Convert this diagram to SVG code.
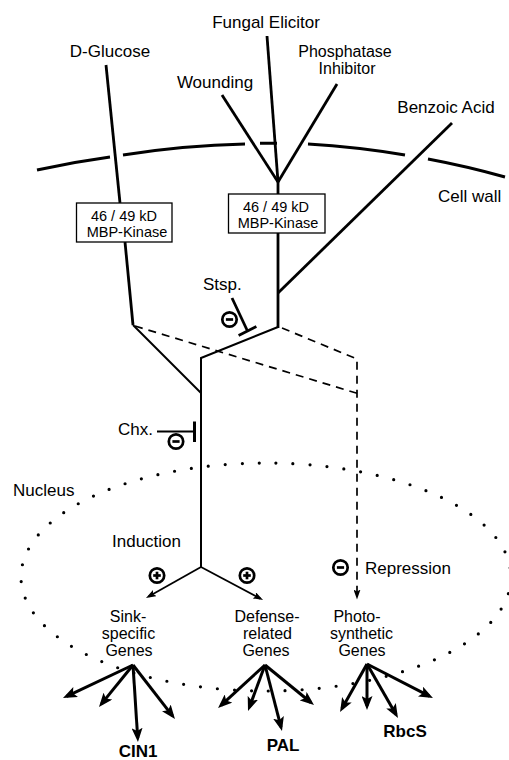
<svg xmlns="http://www.w3.org/2000/svg" width="509" height="760" viewBox="0 0 509 760">
<style>
text{font-family:"Liberation Sans",Arial,Helvetica,sans-serif;font-size:17px;fill:#000}
.c{text-anchor:middle}
.box{font-size:14.5px}
.g{font-size:16px}
.b{font-weight:bold}
.thick{stroke:#000;stroke-width:2.8;fill:none;stroke-linejoin:miter}
.mid{stroke:#000;stroke-width:2;fill:none}
.thin{stroke:#000;stroke-width:1.8;fill:none}
.dash{stroke:#000;stroke-width:1.7;fill:none;stroke-dasharray:8 6}
.wall{stroke:#000;stroke-width:3;fill:none}
.bold{stroke:#000;stroke-width:3;fill:none}
.kbox{fill:#fff;stroke:#000;stroke-width:1.3}
.sym{fill:none;stroke:#000;stroke-width:2.7}
.dots{fill:none;stroke:#000;stroke-width:3.2;stroke-linecap:round;stroke-dasharray:0 17}
</style>
<defs>
<marker id="ahThin" markerUnits="userSpaceOnUse" markerWidth="10" markerHeight="7" refX="7" refY="3.5" orient="auto"><path d="M0,0 L10,3.5 L0,7 L2,3.5 z" fill="#000"/></marker>
<marker id="ahBold" markerUnits="userSpaceOnUse" markerWidth="14" markerHeight="11" refX="10" refY="5.5" orient="auto"><path d="M0,0 L14,5.5 L0,11 L3,5.5 z" fill="#000"/></marker>
<g id="minus"><circle r="7.2" class="sym"/><line x1="-3.6" y1="0" x2="3.6" y2="0" class="sym"/></g>
<g id="plus"><circle r="7.2" class="sym"/><line x1="-3.8" y1="0" x2="3.8" y2="0" class="sym"/><line x1="0" y1="-3.8" x2="0" y2="3.8" class="sym"/></g>
</defs>
<rect width="509" height="760" fill="#fff"/>

<g id="cell-wall">
<path class="wall" d="M37,170 A900,900 0 0 1 110,157"/>
<path class="wall" d="M123,155 A900,900 0 0 1 245,144"/>
<path class="wall" d="M260,143.3 A900,900 0 0 1 277,143.3"/>
<path class="wall" d="M308,144 A900,900 0 0 1 405,155"/>
<path class="wall" d="M428,159 A900,900 0 0 1 505,177"/>
<text x="438" y="202">Cell wall</text>
</g>

<g id="nucleus">
<ellipse class="dots" cx="266" cy="577" rx="245" ry="114"/>
<text x="13" y="496">Nucleus</text>
</g>

<g id="connectors">
<polyline class="thick" points="106,65 120,203"/>
<polyline class="thick" points="125,242 133,325"/>
<polyline class="mid" points="133,325 201,393"/>
<line class="thick" x1="267" y1="36" x2="278" y2="182"/>
<line class="thick" x1="222" y1="95" x2="278" y2="182"/>
<line class="thick" x1="337" y1="84" x2="278" y2="182"/>
<line class="thick" x1="278" y1="181" x2="278" y2="194"/>
<line class="thick" x1="278" y1="233" x2="278" y2="328"/>
<line class="thick" x1="452" y1="123" x2="278" y2="293"/>
<polyline class="mid" points="278,327 201,358 201,567"/>
<line class="thin" x1="201" y1="567" x2="148.6" y2="596.5" marker-end="url(#ahThin)"/>
<line class="thin" x1="201" y1="567" x2="260.4" y2="598.6" marker-end="url(#ahThin)"/>
<line class="dash" x1="135" y1="326" x2="357" y2="393.3"/>
<polyline class="dash" points="282,328 357,359 357,596.5" marker-end="url(#ahThin)"/>
<line class="bold" x1="133" y1="665" x2="66.6" y2="696.3" marker-end="url(#ahBold)"/>
<line class="bold" x1="133" y1="665" x2="101.5" y2="703.9" marker-end="url(#ahBold)"/>
<line class="bold" x1="133" y1="665" x2="137.7" y2="738" marker-end="url(#ahBold)"/>
<line class="bold" x1="133" y1="665" x2="172.5" y2="715.8" marker-end="url(#ahBold)"/>
<line class="bold" x1="265" y1="665" x2="221" y2="705.3" marker-end="url(#ahBold)"/>
<line class="bold" x1="265" y1="665" x2="249.4" y2="707.2" marker-end="url(#ahBold)"/>
<line class="bold" x1="265" y1="665" x2="281" y2="727.1" marker-end="url(#ahBold)"/>
<line class="bold" x1="265" y1="665" x2="310.9" y2="702.5" marker-end="url(#ahBold)"/>
<line class="bold" x1="367" y1="664" x2="342" y2="708.5" marker-end="url(#ahBold)"/>
<line class="bold" x1="367" y1="664" x2="367" y2="706" marker-end="url(#ahBold)"/>
<line class="bold" x1="367" y1="664" x2="396" y2="714.5" marker-end="url(#ahBold)"/>
<line class="bold" x1="367" y1="664" x2="429.4" y2="696.2" marker-end="url(#ahBold)"/>
</g>

<g id="d-glucose"><text class="c" x="110" y="57">D-Glucose</text></g>
<g id="fungal-elicitor"><text class="c" x="266" y="28">Fungal Elicitor</text></g>
<g id="phosphatase-inhibitor"><text class="c g" x="345" y="56.5">Phosphatase</text><text class="c g" x="347" y="74">Inhibitor</text></g>
<g id="wounding"><text class="c" x="215" y="88">Wounding</text></g>
<g id="benzoic-acid"><text class="c" x="446" y="113">Benzoic Acid</text></g>

<g id="kinase-1">
<rect class="kbox" x="76.5" y="203" width="95.5" height="39"/>
<text class="c box" x="124" y="221">46 / 49 kD</text>
<text class="c box" x="127" y="237">MBP-Kinase</text>
</g>
<g id="kinase-2">
<rect class="kbox" x="228.5" y="194" width="96.5" height="39"/>
<text class="c box" x="276" y="212">46 / 49 kD</text>
<text class="c box" x="278" y="228">MBP-Kinase</text>
</g>

<g id="stsp">
<text x="203" y="290">Stsp.</text>
<line class="thick" x1="232" y1="298" x2="247.5" y2="331"/>
<line class="thick" x1="238.6" y1="335.5" x2="256.4" y2="326.5"/>
<use href="#minus" x="229.5" y="319.5"/>
</g>

<g id="chx">
<text x="118" y="435">Chx.</text>
<line class="mid" x1="157" y1="431.5" x2="194" y2="431.5"/>
<line class="sym" x1="194.5" y1="421.5" x2="194.5" y2="442" style="stroke-width:3"/>
<use href="#minus" x="176" y="441.5"/>
</g>

<g id="induction">
<text x="112" y="547">Induction</text>
<use href="#plus" x="157" y="575.5"/>
<use href="#plus" x="247" y="575.5"/>
</g>

<g id="repression">
<use href="#minus" x="340.5" y="567.5"/>
<text x="365" y="574">Repression</text>
</g>

<g id="sink-genes">
<text class="c g" x="128" y="622">Sink-</text>
<text class="c g" x="128.5" y="639">specific</text>
<text class="c g" x="129" y="656">Genes</text>
</g>
<g id="defense-genes">
<text class="c g" x="267" y="622">Defense-</text>
<text class="c g" x="267.5" y="639">related</text>
<text class="c g" x="266" y="656">Genes</text>
</g>
<g id="photo-genes">
<text class="c g" x="357" y="622">Photo-</text>
<text class="c g" x="361.5" y="639">synthetic</text>
<text class="c g" x="362" y="656">Genes</text>
</g>

<g id="cin1"><text class="c b" x="138" y="757">CIN1</text></g>
<g id="pal"><text class="c b" x="283" y="751">PAL</text></g>
<g id="rbcs"><text class="c b" x="405" y="737">RbcS</text></g>
</svg>
